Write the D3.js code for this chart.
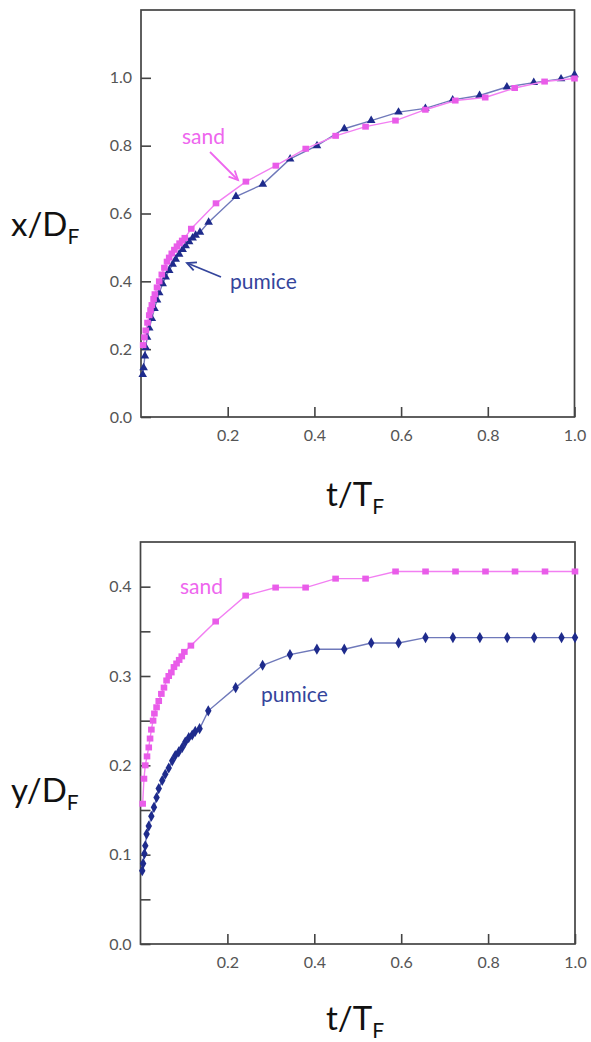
<!DOCTYPE html>
<html>
<head>
<meta charset="utf-8">
<script src="https://cdn.jsdelivr.net/npm/d3@7"></script>
<style>
  html, body { margin: 0; padding: 0; background: #fff; }
  svg { display: block; }
  text { font-family: Lato, "Open Sans", sans-serif; }
</style>
</head>
<body>
<svg id="chart" width="591" height="1042"></svg>
<script>
// ---------------- data ----------------
const sandT = [0.005, 0.008, 0.011, 0.015, 0.019, 0.022, 0.025, 0.029, 0.032, 0.037,
  0.042, 0.048, 0.054, 0.060, 0.065, 0.071, 0.077, 0.083, 0.089, 0.095, 0.101,
  0.116, 0.173, 0.242, 0.311, 0.380, 0.449, 0.518, 0.587, 0.656, 0.725, 0.794, 0.862, 0.931, 1.0];
const sandX = [0.212, 0.235, 0.255, 0.278, 0.300, 0.315, 0.330, 0.348, 0.362, 0.382,
  0.400, 0.420, 0.440, 0.458, 0.470, 0.482, 0.493, 0.503, 0.512, 0.520, 0.528,
  0.555, 0.630, 0.694, 0.741, 0.791, 0.829, 0.856, 0.874, 0.906, 0.933, 0.942, 0.970, 0.989, 0.998];
const sandY = [0.157, 0.185, 0.200, 0.210, 0.220, 0.230, 0.240, 0.250, 0.258, 0.265,
  0.272, 0.280, 0.287, 0.295, 0.300, 0.304, 0.310, 0.314, 0.318, 0.322, 0.327,
  0.334, 0.361, 0.390, 0.399, 0.399, 0.409, 0.409, 0.417, 0.417, 0.417, 0.417, 0.417, 0.417, 0.417];

const pumiceT = [0.004, 0.006, 0.009, 0.011, 0.014, 0.019, 0.025, 0.031, 0.037, 0.042,
  0.050, 0.057, 0.065, 0.073, 0.080, 0.088, 0.096, 0.103, 0.111, 0.119, 0.126, 0.136,
  0.156, 0.219, 0.281, 0.344, 0.406, 0.469, 0.531, 0.594, 0.656, 0.719, 0.781, 0.844, 0.906, 0.969, 1.0];
const pumiceX = [0.125, 0.145, 0.180, 0.205, 0.235, 0.262, 0.290, 0.320, 0.345, 0.366,
  0.393, 0.413, 0.432, 0.450, 0.465, 0.480, 0.494, 0.505, 0.517, 0.528, 0.536, 0.545,
  0.574, 0.650, 0.686, 0.761, 0.800, 0.850, 0.874, 0.899, 0.910, 0.935, 0.948, 0.973, 0.986, 0.997, 1.009];
const pumiceY = [0.082, 0.090, 0.101, 0.110, 0.123, 0.132, 0.143, 0.153, 0.164, 0.174,
  0.183, 0.190, 0.197, 0.205, 0.211, 0.215, 0.220, 0.226, 0.231, 0.234, 0.238, 0.241,
  0.261, 0.287, 0.312, 0.324, 0.330, 0.330, 0.337, 0.337, 0.343, 0.343, 0.343, 0.343, 0.343, 0.343, 0.343];

const xTickValues = [0.2, 0.4, 0.6, 0.8, 1.0];
const topYTickValues = [0.0, 0.2, 0.4, 0.6, 0.8, 1.0];
const bottomYTickValues = [0.0, 0.1, 0.2, 0.3, 0.4];
const bottomYMinorTicks = [0.05, 0.15, 0.25, 0.35];

const seriesNames = ["sand", "pumice"];

// ---------------- style ----------------
const sandMark = "#e95ce9", sandLine = "#f27ff2", sandText = "#ee66ee";
const pumMark = "#1e2b8c", pumLine = "#6f79ba", pumText = "#34459c";
const axisColor = "#444", labelColor = "#555";

const svg = d3.select("#chart");

function panel(opts) {
  const { top, bottom, left, right, yDomain, yTicks, yMinor, sandVals, pumVals, pumSymbol } = opts;
  const x = d3.scaleLinear().domain([0, 1]).range([left, right]);
  const y = d3.scaleLinear().domain(yDomain).range([bottom, top]);
  const g = svg.append("g");

  const ya = g.append("g").attr("transform", `translate(${left},0)`)
    .call(d3.axisLeft(y).tickValues(yTicks).tickFormat(d3.format(".1f")).tickSize(-10).tickPadding(9));
  if (yMinor) {
    g.append("g").attr("transform", `translate(${left},0)`)
      .call(d3.axisLeft(y).tickValues(yMinor).tickFormat("").tickSize(-10))
      .call(s => s.select(".domain").remove());
  }
  const xa = g.append("g").attr("transform", `translate(0,${bottom})`)
    .call(d3.axisBottom(x).tickValues(xTickValues).tickFormat(d3.format(".1f")).tickSize(-10).tickPadding(13));
  [ya, xa].forEach(a => {
    a.select(".domain").remove();
    a.selectAll(".tick text").attr("fill", labelColor).style("font-size", "16px")
      .style("font-family", "Lato, 'Open Sans', sans-serif");
  });
  g.selectAll(".tick line").attr("stroke", axisColor).attr("stroke-width", 1.6);

  g.append("rect").attr("x", left).attr("y", top)
    .attr("width", right - left).attr("height", bottom - top)
    .attr("fill", "none").attr("stroke", axisColor).attr("stroke-width", 1.7);

  const line = d3.line().x(d => x(d[0])).y(d => y(d[1]));
  const sandData = sandT.map((t, i) => [t, sandVals[i]]);
  const pumData = pumiceT.map((t, i) => [t, pumVals[i]]);

  g.append("path").datum(pumData).attr("d", line)
    .attr("fill", "none").attr("stroke", pumLine).attr("stroke-width", 1.4);
  g.selectAll(".pm").data(pumData).enter().append("path")
    .attr("transform", d => `translate(${x(d[0])},${y(d[1])})`)
    .attr("d", d3.symbol().type(pumSymbol).size(pumSymbol === d3.symbolTriangle ? 32 : 36))
    .attr("fill", pumMark);

  g.append("path").datum(sandData).attr("d", line)
    .attr("fill", "none").attr("stroke", sandLine).attr("stroke-width", 1.4);
  g.selectAll(".sm").data(sandData).enter().append("rect")
    .attr("x", d => x(d[0]) - 3.3).attr("y", d => y(d[1]) - 3)
    .attr("width", 6.6).attr("height", 6)
    .attr("fill", sandMark);

  return { g, x, y };
}

function axisTitle(x0, yBase, main, sub) {
  const t = svg.append("text").attr("x", x0).attr("y", yBase)
    .attr("fill", "#111").style("font-size", "33px");
  t.append("tspan").text(main);
  t.append("tspan").attr("dy", 8).style("font-size", "21px").text(sub);
}

function arrow(x1, y1, x2, y2, color) {
  svg.append("line").attr("x1", x1).attr("y1", y1).attr("x2", x2).attr("y2", y2)
    .attr("stroke", color).attr("stroke-width", 1.8);
  const ang = Math.atan2(y2 - y1, x2 - x1);
  const L = 10, w = 0.45;
  const p1 = [x2 - L * Math.cos(ang - w), y2 - L * Math.sin(ang - w)];
  const p2 = [x2 - L * Math.cos(ang + w), y2 - L * Math.sin(ang + w)];
  svg.append("path").attr("d", `M${p1}L${x2},${y2}L${p2}`)
    .attr("fill", "none").attr("stroke", color).attr("stroke-width", 1.8);
}

// ---------------- top panel ----------------
panel({ top: 10, bottom: 417, left: 141, right: 574.5, yDomain: [0, 1.2],
  yTicks: topYTickValues, yMinor: null, sandVals: sandX, pumVals: pumiceX, pumSymbol: d3.symbolTriangle });

svg.append("text").attr("x", 182).attr("y", 144).attr("fill", sandText)
  .style("font-size", "21px").text(seriesNames[0]);
arrow(210, 152, 238, 180, sandText);
svg.append("text").attr("x", 230).attr("y", 289).attr("fill", pumText)
  .style("font-size", "21px").text(seriesNames[1]);
arrow(221, 277, 187, 263, pumText);

axisTitle(11, 236, "x/D", "F");
axisTitle(326, 506, "t/T", "F");

// ---------------- bottom panel ----------------
panel({ top: 542, bottom: 944, left: 140.5, right: 575, yDomain: [0, 0.45],
  yTicks: bottomYTickValues, yMinor: bottomYMinorTicks, sandVals: sandY, pumVals: pumiceY, pumSymbol: d3.symbolDiamond });

svg.append("text").attr("x", 180).attr("y", 594).attr("fill", sandText)
  .style("font-size", "21px").text(seriesNames[0]);
svg.append("text").attr("x", 261).attr("y", 702).attr("fill", pumText)
  .style("font-size", "21px").text(seriesNames[1]);

axisTitle(11, 802, "y/D", "F");
axisTitle(326, 1030, "t/T", "F");
</script>
</body>
</html>
